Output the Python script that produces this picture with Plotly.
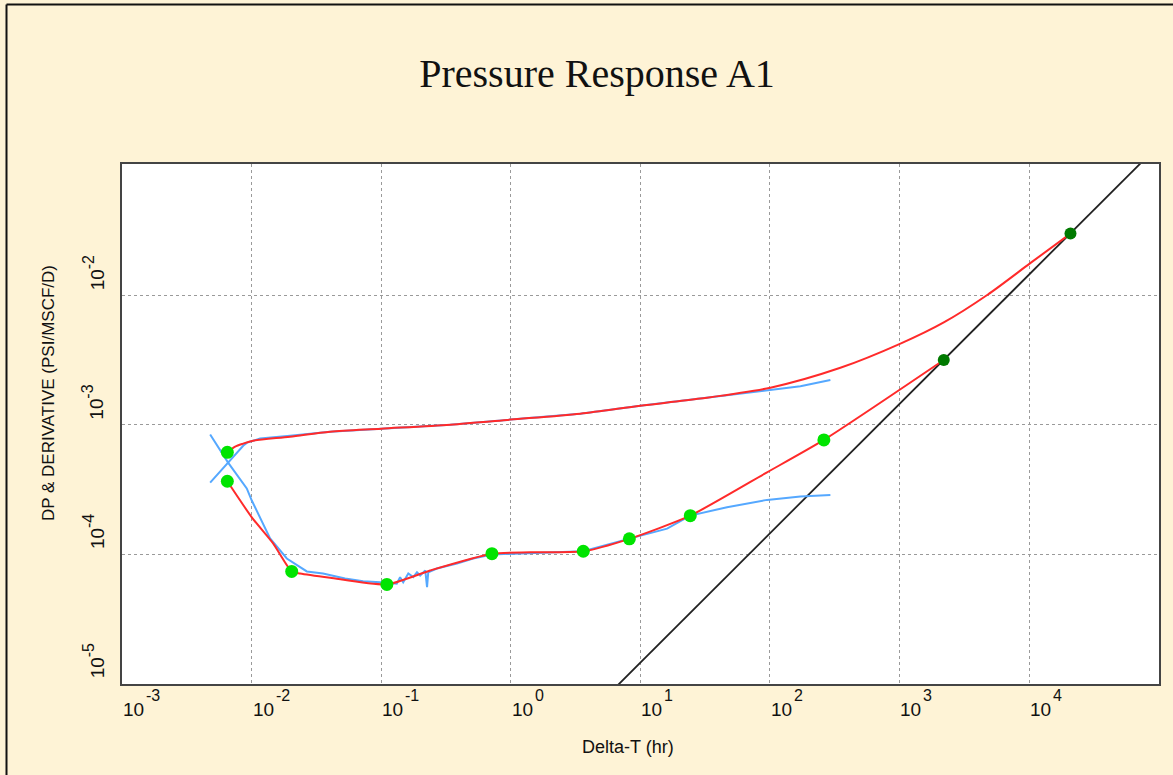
import math
import plotly.graph_objects as go

# ---------------- data (hours, PSI/MSCF/D) ----------------
# Pressure change: measured (blue) and model (red)
dp_data_t = [0.00479, 0.00659, 0.00865, 0.00923, 0.01164, 0.0198, 0.0404, 0.1, 0.341, 1.0,
             3.44, 10.0, 29.1, 101, 172, 293]
dp_data_v = [3.56e-4, 5.09e-4, 6.89e-4, 7.26e-4, 7.80e-4, 8.22e-4, 8.83e-4, 9.31e-4, 1.0e-3, 1.094e-3,
             1.216e-3, 1.40e-3, 1.59e-3, 1.86e-3, 1.98e-3, 2.21e-3]

dp_model_t = [0.0065, 0.00747, 0.00859, 0.01027, 0.0198, 0.0404, 0.1, 0.341, 1.0, 3.44, 10.0,
              29.1, 101, 350, 1018, 2198, 4786, 10280, 20890]
dp_model_v = [6.11e-4, 6.76e-4, 7.13e-4, 7.52e-4, 8.07e-4, 8.83e-4, 9.31e-4, 1.0e-3, 1.094e-3,
              1.216e-3, 1.40e-3, 1.59e-3, 1.93e-3, 2.75e-3, 4.23e-3, 6.17e-3, 1.01e-2, 1.78e-2, 3.0e-2]

# Derivative: measured (blue) and model (red)
der_data_t = [0.00479, 0.00659, 0.00918, 0.01004, 0.0139, 0.0187, 0.0267, 0.0356, 0.0527, 0.0726,
              0.0982, 0.132, 0.140, 0.148, 0.162, 0.177, 0.189, 0.200, 0.219, 0.226, 0.231, 0.269,
              0.385, 0.513, 0.716, 1.415, 3.63, 8.37, 16.1, 24.3, 46.7, 95.1, 172, 293]
der_data_v = [8.38e-4, 5.09e-4, 3.21e-4, 2.59e-4, 1.32e-4, 9.23e-5, 7.33e-5, 7.06e-5, 6.47e-5, 6.17e-5,
              6.05e-5, 5.89e-5, 6.62e-5, 6.05e-5, 7.06e-5, 6.62e-5, 7.23e-5, 6.82e-5, 7.46e-5, 5.55e-5,
              7.23e-5, 7.73e-5, 8.45e-5, 9.23e-5, 9.91e-5, 1.01e-4, 1.05e-4, 1.32e-4, 1.57e-4, 1.98e-4,
              2.30e-4, 2.62e-4, 2.78e-4, 2.86e-4]

der_model_t = [0.0065, 0.01004, 0.01466, 0.0204, 0.0237, 0.0404, 0.1107, 0.239, 0.716, 1.415, 3.63,
               8.23, 24.3, 95.1, 261, 2198]
der_model_v = [3.65e-4, 1.92e-4, 1.21e-4, 7.33e-5, 7.06e-5, 6.55e-5, 5.82e-5, 7.46e-5, 1.005e-4,
               1.03e-4, 1.05e-4, 1.31e-4, 1.98e-4, 4.28e-4, 7.62e-4, 3.16e-3]

# Match points (lime) and unit-slope points (dark green)
match_t = [0.0065, 0.0065, 0.0204, 0.1107, 0.716, 3.63, 8.23, 24.3, 261]
match_v = [6.11e-4, 3.65e-4, 7.33e-5, 5.82e-5, 1.005e-4, 1.05e-4, 1.31e-4, 1.98e-4, 7.62e-4]
unit_pts_t = [2198, 20890]
unit_pts_v = [3.16e-3, 3.0e-2]

# Unit-slope straight line
unit_line_t = [1.0, 1.0e5]
unit_line_v = [1.445e-6, 1.445e-1]

# Tick labels: base "10" and exponents
x_tickvals = [1e-3, 1e-2, 1e-1, 1e0, 1e1, 1e2, 1e3, 1e4]
x_exps = ["-3", "-2", "-1", "0", "1", "2", "3", "4"]
y_tickvals = [1e-5, 1e-4, 1e-3, 1e-2]
y_exps = ["-5", "-4", "-3", "-2"]

# ---------------- figure ----------------
BLUE = "#55A8FF"
RED = "#FF2A2A"
BG = "#FEF3D6"
TXT = "#111111"
L, R, T, B = 122, 14, 164, 91
PW, PH = 1173 - L - R, 775 - T - B


def px_x(px):
    return (px - L) / PW


def px_y(py):
    return (775 - B - py) / PH


fig = go.Figure()

fig.add_trace(go.Scatter(x=unit_line_t, y=unit_line_v, mode="lines",
                         line=dict(color="#222222", width=1.8), hoverinfo="skip"))
fig.add_trace(go.Scatter(x=dp_data_t, y=dp_data_v, mode="lines",
                         line=dict(color=BLUE, width=2)))
fig.add_trace(go.Scatter(x=der_data_t, y=der_data_v, mode="lines",
                         line=dict(color=BLUE, width=2)))
fig.add_trace(go.Scatter(x=dp_model_t, y=dp_model_v, mode="lines",
                         line=dict(color=RED, width=2, shape="spline", smoothing=0.8)))
fig.add_trace(go.Scatter(x=der_model_t, y=der_model_v, mode="lines",
                         line=dict(color=RED, width=2, shape="spline", smoothing=0.6)))
fig.add_trace(go.Scatter(x=match_t, y=match_v, mode="markers",
                         marker=dict(color="#00E400", size=13)))
fig.add_trace(go.Scatter(x=unit_pts_t, y=unit_pts_v, mode="markers",
                         marker=dict(color="#007A00", size=12)))

fig.update_layout(
    width=1173, height=775,
    paper_bgcolor=BG, plot_bgcolor="white",
    showlegend=False,
    margin=dict(l=L, r=R, t=T, b=B),
    title=dict(text="Pressure Response A1", x=597 / 1173, xanchor="center",
               y=1 - 73 / 775, yanchor="middle",
               font=dict(family="Liberation Serif, Times New Roman, serif", size=40, color=TXT)),
    font=dict(family="Liberation Sans, Arial, sans-serif", color=TXT),
)
fig.update_xaxes(type="log", range=[-3, 5.003], tickvals=x_tickvals, showticklabels=False,
                 showgrid=True, gridcolor="#9a9a9a", griddash="dot", gridwidth=1,
                 showline=True, linecolor="#444444", linewidth=2, mirror=True,
                 ticks="", zeroline=False)
fig.update_yaxes(type="log", range=[-5.005, -0.985], tickvals=y_tickvals, showticklabels=False,
                 showgrid=True, gridcolor="#9a9a9a", griddash="dot", gridwidth=1,
                 showline=True, linecolor="#444444", linewidth=2, mirror=True,
                 ticks="", zeroline=False)

# x tick labels (10 + raised exponent, set just right of each grid line)
for v, e in zip(x_tickvals, x_exps):
    lx = math.log10(v)
    fig.add_annotation(text="10", xref="x", x=lx, yref="paper", y=px_y(709),
                       xanchor="left", yanchor="middle", xshift=-1, showarrow=False,
                       font=dict(size=19, color=TXT))
    fig.add_annotation(text=e, xref="x", x=lx, yref="paper", y=px_y(695),
                       xanchor="left", yanchor="middle", xshift=22, showarrow=False,
                       font=dict(size=16, color=TXT))

# y tick labels (rotated, set just above each grid line)
for v, e in zip(y_tickvals, y_exps):
    ly = math.log10(v)
    fig.add_annotation(text="10", xref="paper", x=px_x(97), yref="y", y=ly,
                       xanchor="center", yanchor="middle", yshift=15, textangle=-90,
                       showarrow=False, font=dict(size=19, color=TXT))
    fig.add_annotation(text=e, xref="paper", x=px_x(88), yref="y", y=ly,
                       xanchor="center", yanchor="middle", yshift=33, textangle=-90,
                       showarrow=False, font=dict(size=16, color=TXT))

fig.add_annotation(text="Delta-T (hr)", xref="paper", yref="paper",
                   x=px_x(628), y=px_y(747), showarrow=False,
                   xanchor="center", yanchor="middle", font=dict(size=18, color=TXT))
fig.add_annotation(text="DP & DERIVATIVE (PSI/MSCF/D)", xref="paper", yref="paper",
                   x=px_x(48), y=px_y(393), showarrow=False, textangle=-90,
                   xanchor="center", yanchor="middle", font=dict(size=17, color=TXT))

# outer frame (left and top edges of the picture)
fig.add_shape(type="line", xref="paper", yref="paper",
              x0=px_x(6.5), x1=px_x(6.5), y0=px_y(780), y1=px_y(4.5),
              line=dict(color=TXT, width=2))
fig.add_shape(type="line", xref="paper", yref="paper",
              x0=px_x(6.5), x1=px_x(1180), y0=px_y(4.5), y1=px_y(4.5),
              line=dict(color=TXT, width=2))

fig.write_html(
    "out.html",
    config={"displayModeBar": False},
    post_script=("document.body.style.margin='0';"
                 "document.body.style.background='" + BG + "';"
                 "document.documentElement.style.overflow='hidden';"),
)
